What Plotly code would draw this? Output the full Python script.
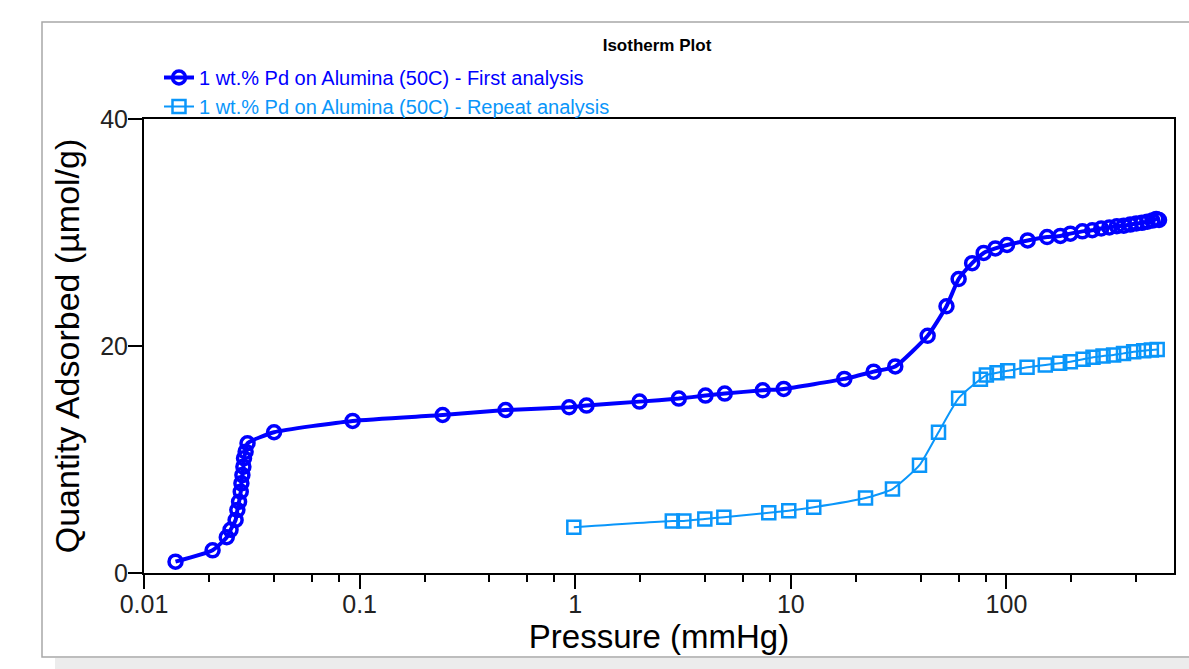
import plotly.graph_objects as go

# ---- data ----
first_pressure = [0.0140, 0.0208, 0.0242, 0.0252, 0.0266, 0.0271, 0.0276, 0.0281, 0.0283,
                  0.0286, 0.0289, 0.0291, 0.0296, 0.0302, 0.0401, 0.0928, 0.2427, 0.475,
                  0.937, 1.128, 1.987, 3.022, 4.019, 4.937, 7.407, 9.27, 17.7, 24.2, 30.5,
                  43.1, 52.7, 60.0, 69.3, 78.4, 88.8, 100.6, 125.4, 154.3, 177.8, 197.9,
                  225, 250, 275, 300, 325, 350, 375, 400, 425, 450, 475, 495, 510]
first_quantity = [1.0, 2.0, 3.15, 3.8, 4.67, 5.55, 6.28, 7.16, 7.90, 8.63, 9.37, 10.11, 10.69,
                  11.43, 12.4, 13.4, 13.92, 14.36, 14.6, 14.75, 15.1, 15.37, 15.63, 15.81,
                  16.1, 16.22, 17.1, 17.74, 18.2, 20.9, 23.5, 25.9, 27.3, 28.2, 28.6, 28.9,
                  29.3, 29.6, 29.7, 29.9, 30.1, 30.2, 30.35, 30.45, 30.55, 30.6, 30.7, 30.8,
                  30.85, 30.95, 31.05, 31.2, 31.1]

repeat_pressure = [0.985, 2.82, 3.19, 3.99, 4.89, 7.90, 9.78, 12.77, 22.2, 29.6, 39.5, 48.4,
                   60.0, 75.7, 80.7, 90.4, 101.3, 124.6, 151.4, 176.5, 197.8, 226.6, 252,
                   280.5, 314, 349, 389, 433, 470, 500]
repeat_quantity = [4.03, 4.58, 4.58, 4.76, 4.91, 5.31, 5.49, 5.79, 6.6, 7.4, 9.5, 12.4, 15.4,
                   17.07, 17.44, 17.65, 17.82, 18.12, 18.33, 18.48, 18.62, 18.83, 19.0, 19.12,
                   19.2, 19.35, 19.5, 19.59, 19.65, 19.7]

first_name = "1 wt.% Pd on Alumina (50C) - First analysis"
repeat_name = "1 wt.% Pd on Alumina (50C) - Repeat analysis"

x_tickvals = [0.01, 0.1, 1, 10, 100]
x_ticktext = ["0.01", "0.1", "1", "10", "100"]
x_minor = [0.02, 0.04, 0.06, 0.08, 0.2, 0.4, 0.6, 0.8, 2, 4, 6, 8, 20, 40, 60, 80, 200, 400]
y_tickvals = [0, 20, 40]

C1 = "#0000FF"
C2 = "#0A96FA"
FONT = "Arial, 'Liberation Sans', sans-serif"

fig = go.Figure()
fig.add_trace(go.Scatter(
    x=first_pressure, y=first_quantity, mode="lines+markers",
    name=f"<span style='color:{C1}'>{first_name}</span>",
    line=dict(color=C1, width=4, shape="spline", smoothing=0.5),
    marker=dict(symbol="circle-open", size=13, color=C1, line=dict(width=3.5, color=C1)),
))
fig.add_trace(go.Scatter(
    x=repeat_pressure, y=repeat_quantity, mode="lines+markers",
    name=f"<span style='color:{C2}'>{repeat_name}</span>",
    line=dict(color=C2, width=2, shape="spline", smoothing=0.5),
    marker=dict(symbol="square-open", size=13, color=C2, line=dict(width=2.5, color=C2)),
))

L, R, T, B = 144, 15, 119, 96
W, H = 1189, 669
pw, ph = W - L - R, H - T - B

def px_x(p):
    return (p - L) / pw

def px_y(p):
    return (H - B - p) / ph

fig.update_layout(
    width=W, height=H,
    margin=dict(l=L, r=R, t=T, b=B),
    paper_bgcolor="white", plot_bgcolor="white",
    font=dict(family=FONT, color="#111111"),
    title=dict(text="<b>Isotherm Plot</b>", x=657 / W, xref="container", xanchor="center",
               y=1 - 45 / H, yref="container", yanchor="middle",
               font=dict(size=17, family=FONT, color="#000000")),
    showlegend=True,
    legend=dict(x=px_x(159), y=px_y(58), xanchor="left", yanchor="top",
                font=dict(size=20, family=FONT), bgcolor="rgba(0,0,0,0)",
                itemwidth=30, tracegroupgap=0),
    xaxis=dict(type="log", range=[-2, 2.777],
               tickvals=x_tickvals, ticktext=x_ticktext,
               ticks="outside", ticklen=14, tickwidth=1.5, tickcolor="#000",
               minor=dict(tickvals=x_minor, ticks="outside", ticklen=7, tickwidth=1.5,
                          tickcolor="#000", showgrid=False),
               showline=True, linecolor="#000", linewidth=2, mirror=True,
               showgrid=False, zeroline=False, ticklabelstandoff=-6,
               tickfont=dict(size=25, family=FONT, color="#222"),
               title=dict(text="Pressure (mmHg)", font=dict(size=33, family=FONT, color="#000"),
                          standoff=0)),
    yaxis=dict(range=[0, 40], tickvals=y_tickvals,
               ticks="outside", ticklen=14, tickwidth=1.5, tickcolor="#000",
               showline=True, linecolor="#000", linewidth=2, mirror=True,
               showgrid=False, zeroline=False, ticklabelstandoff=-5,
               tickfont=dict(size=25, family=FONT, color="#222"),
               title=dict(text="Quantity Adsorbed (µmol/g)",
                          font=dict(size=34, family=FONT, color="#000"), standoff=10)),
    shapes=[
        dict(type="rect", xref="paper", yref="paper",
             x0=px_x(55), x1=px_x(1200), y0=px_y(669), y1=px_y(658),
             fillcolor="#ececec", line=dict(width=0), layer="below"),
        dict(type="rect", xref="paper", yref="paper",
             x0=px_x(42), x1=px_x(1200), y0=px_y(657), y1=px_y(22),
             fillcolor="rgba(0,0,0,0)", line=dict(color="#a8a8a8", width=1.5), layer="below"),
    ],
)

fig.write_html("out.html", config={"displayModeBar": False},
               post_script="document.body.style.margin='0';")
